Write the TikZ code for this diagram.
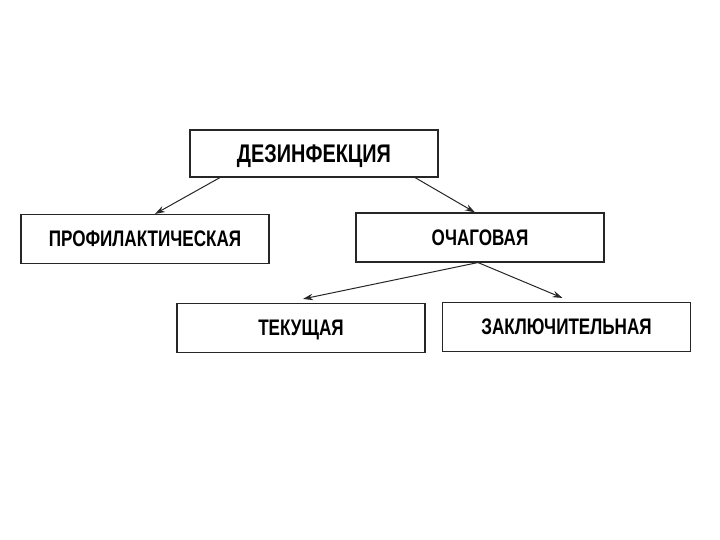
\documentclass[tikz,border=0pt]{standalone}
\usepackage{fontspec}
\newfontfamily\boxfont{Liberation Sans}[FakeStretch=0.76]
\newfontfamily\rootfont{Liberation Sans}[FakeStretch=0.78]
\usetikzlibrary{arrows.meta, positioning}
\tikzstyle{kind} = [rectangle, minimum width=248pt, minimum height=49pt, text centered, text height=15.5pt, text depth=0pt, draw=black!85, line width=1.1pt, font=\boxfont\bfseries\fontsize{22.5pt}{25pt}\selectfont]
\tikzstyle{root} = [kind, minimum height=47pt, text height=17.5pt, font=\rootfont\bfseries\fontsize{25.5pt}{28pt}\selectfont]
\tikzstyle{arrow} = [line width=1pt,->,>={Stealth[length=10pt,width=6.5pt]}, black!85]

\begin{document}
\begin{tikzpicture}[x=1pt, y=-1pt]
\useasboundingbox (0,0) rectangle (720,540);

% Nodes
\node (dez) [root] at (314,153.5) {ДЕЗИНФЕКЦИЯ};
\node (prof) [kind] at (145,239) {ПРОФИЛАКТИЧЕСКАЯ};
\node (ochag) [kind] at (480,237.5) {ОЧАГОВАЯ};
\node (tek) [kind] at (301,328) {ТЕКУЩАЯ};
\node (zakl) [kind] at (566.5,327) {ЗАКЛЮЧИТЕЛЬНАЯ};

% Arrows
\draw [arrow] ([xshift=-94pt]dez.south) -- ([xshift=10pt]prof.north);
\draw [arrow] ([xshift=101pt]dez.south) -- ([xshift=-5pt]ochag.north);
\draw [arrow] ([xshift=-2pt]ochag.south) -- ([xshift=2pt,yshift=4pt]tek.north);
\draw [arrow] ([xshift=-2pt]ochag.south) -- ([xshift=-4pt,yshift=4pt]zakl.north);

\end{tikzpicture}
\end{document}
